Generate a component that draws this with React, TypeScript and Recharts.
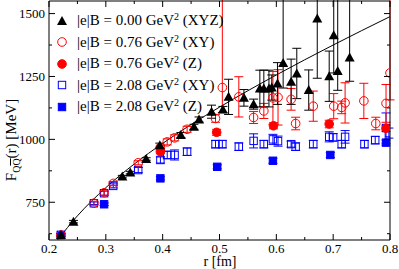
import React from 'react';
import { ComposedChart, Scatter, Line, XAxis, YAxis, ErrorBar } from 'recharts';

// fit curve
const fitR = [0.215, 0.25, 0.3, 0.35, 0.4, 0.45, 0.5, 0.6, 0.7, 0.8];
const fitF = [600, 696, 808, 902, 984, 1059, 1128, 1256, 1375, 1488];

// |e|B = 0.00 (XYZ)
const b0R = [0.221, 0.243, 0.329, 0.343, 0.371, 0.395, 0.432, 0.455, 0.464, 0.486, 0.506, 0.516, 0.543, 0.56, 0.571, 0.578, 0.587, 0.592, 0.602, 0.612, 0.626, 0.636, 0.657, 0.672, 0.693, 0.701, 0.708, 0.729];
const b0F = [620, 673, 852, 868, 922, 977, 1017, 1050, 1079, 1110, 1119, 1169, 1165, 1140, 1202, 1202, 1202, 1206, 1222, 1304, 1229, 1262, 1196, 1480, 1251, 1414, 1272, 1325];
const b0E: (number | number[])[] = [5, 5, 5, 5, 5, 8, 10, 10, 10, 26, 12, 70, 33, 20, 73, 73, 73, 50, 83, [100, 300], 90, 100, 80, 237, 100, 150, [77, 300], [94, 250]];

// |e|B = 0.76 (XY)
const b1xyR = [0.221, 0.279, 0.297, 0.313, 0.357, 0.396, 0.408, 0.421, 0.443, 0.493, 0.505, 0.534, 0.56, 0.578, 0.594, 0.603, 0.626, 0.634, 0.665, 0.701, 0.715, 0.721, 0.754, 0.775, 0.793, 0.8];
const b1xyF = [620, 746, 788, 825, 907, 967, 990, 1006, 1040, 1083, 1206, 1169, 1087, 1113, 1165, 1167, 1159, 1063, 1132, 1132, 1127, 1145, 1153, 1063, 1143, 1264];
const b1xyE: (number | number[])[] = [8, 8, 10, 8, 8, 10, 12, 12, 12, 15, [100, 400], 80, 24, 30, 105, 110, 43, 25, 60, 50, 25, 80, 70, 25, 75, [107, 400]];

// |e|B = 0.76 (Z)
const b1zR = [0.396, 0.495, 0.595, 0.693, 0.793];
const b1zF = [951, 1028, 1054, 1061, 1044];
const b1zE = [8, 12, 12, 15, 12];

// |e|B = 2.08 (XY)
const b2xyR = [0.221, 0.279, 0.297, 0.313, 0.357, 0.396, 0.408, 0.421, 0.443, 0.493, 0.505, 0.534, 0.56, 0.578, 0.594, 0.603, 0.626, 0.634, 0.665, 0.693, 0.7, 0.715, 0.721, 0.755, 0.774, 0.793, 0.798];
const b2xyF = [620, 746, 786, 815, 878, 918, 938, 938, 951, 981, 981, 971, 994, 981, 1000, 993, 981, 971, 981, 1010, 1008, 981, 1010, 981, 997, 1045, 1025];
const b2xyE = [5, 5, 8, 8, 10, 12, 15, 20, 15, 15, 15, 15, 28, 15, 20, 20, 12, 15, 15, 20, 15, 15, 25, 15, 15, 60, 20];

// |e|B = 2.08 (Z)
const b2zR = [0.221, 0.297, 0.396, 0.496, 0.594, 0.695, 0.793];
const b2zF = [620, 742, 845, 891, 915, 938, 987];
const b2zE = [5, 5, 6, 8, 10, 10, 10];

const xTicks = [0.2, 0.25, 0.3, 0.35, 0.4, 0.45, 0.5, 0.55, 0.6, 0.65, 0.7, 0.75, 0.8];
const yTicks = [625, 750, 875, 1000, 1125, 1250, 1375, 1500];

const zip = (r: number[], f: number[], e?: any[]) => r.map((x, i) => ({ x, y: f[i], err: e ? e[i] : 0 }));

const fitData = zip(fitR, fitF);
const s0 = zip(b0R, b0F, b0E);
const s1xy = zip(b1xyR, b1xyF, b1xyE);
const s1z = zip(b1zR, b1zF, b1zE);
const s2xy = zip(b2xyR, b2xyF, b2xyE);
const s2z = zip(b2zR, b2zF, b2zE);

const FONT = '"Liberation Serif", "Times New Roman", serif';
const RED = '#ff0000';
const BLUE = '#0000ff';

const triangle = (cx: number, cy: number, c = '#000') => (
  <path d={`M${cx},${cy - 5}L${cx + 5},${cy + 4}L${cx - 5},${cy + 4}Z`} fill={c} />
);
const circle = (cx: number, cy: number, fill: boolean) => (
  <circle cx={cx} cy={cy} r={4.3} fill={fill ? RED : 'none'} stroke={RED} strokeWidth={1} />
);
const square = (cx: number, cy: number, fill: boolean) => (
  <rect x={cx - 3.7} y={cy - 3.7} width={7.4} height={7.4} fill={fill ? BLUE : 'none'} stroke={BLUE} strokeWidth={1} />
);

const isMajorX = (v: number) => Math.abs(v * 10 - Math.round(v * 10)) < 1e-6;
const isMajorY = (v: number) => v % 250 === 0;

const BottomTick = (p: any) => {
  const major = isMajorX(p.payload.value);
  return (
    <g>
      <line x1={p.x} x2={p.x} y1={p.y} y2={p.y - (major ? 6 : 3)} stroke="#000" />
      {major && (
        <text x={p.x} y={p.y + 12.5} textAnchor="middle" fontFamily={FONT} fontSize={13} fill="#000">
          {p.payload.value.toFixed(1)}
        </text>
      )}
    </g>
  );
};
const TopTick = (p: any) => {
  const major = isMajorX(p.payload.value);
  return <line x1={p.x} x2={p.x} y1={p.y} y2={p.y + (major ? 6 : 3)} stroke="#000" />;
};
const LeftTick = (p: any) => {
  const major = isMajorY(p.payload.value);
  return (
    <g>
      <line x1={p.x} x2={p.x + (major ? 6 : 3)} y1={p.y} y2={p.y} stroke="#000" />
      {major && (
        <text x={p.x - 4} y={p.y + 4.5} textAnchor="end" fontFamily={FONT} fontSize={13} fill="#000">
          {p.payload.value}
        </text>
      )}
    </g>
  );
};
const RightTick = (p: any) => {
  const major = isMajorY(p.payload.value);
  return <line x1={p.x} x2={p.x - (major ? 6 : 3)} y1={p.y} y2={p.y} stroke="#000" />;
};

const legendRows = [
  { sym: (cx: number, cy: number) => triangle(cx, cy), val: '0.00', dir: 'XYZ' },
  { sym: (cx: number, cy: number) => circle(cx, cy, false), val: '0.76', dir: 'XY' },
  { sym: (cx: number, cy: number) => circle(cx, cy, true), val: '0.76', dir: 'Z' },
  { sym: (cx: number, cy: number) => square(cx, cy, false), val: '2.08', dir: 'XY' },
  { sym: (cx: number, cy: number) => square(cx, cy, true), val: '2.08', dir: 'Z' },
];

const LegendBox = () => (
  <div style={{ position: 'absolute', left: 55, top: 10, fontFamily: FONT, fontSize: 15, color: '#000' }}>
    {legendRows.map((row, i) => (
      <div key={i} style={{ display: 'flex', alignItems: 'center', height: 21.5, whiteSpace: 'nowrap' }}>
        <svg width={14} height={14} style={{ marginRight: 8 }}>{row.sym(7, 7)}</svg>
        <span>|e|B = {row.val} GeV<sup style={{ fontSize: 10, verticalAlign: 'top', lineHeight: '10px' }}>2</sup> ({row.dir})</span>
      </div>
    ))}
  </div>
);

export default function App() {
  return (
    <div style={{ position: 'absolute', left: 0, top: 0, width: 399, height: 269 }}>
      <ComposedChart width={399} height={269} margin={{ top: 0, right: 8, bottom: 1, left: 9 }}>
        <XAxis xAxisId="b" type="number" dataKey="x" domain={[0.2, 0.8]} ticks={xTicks} allowDataOverflow
          height={28} tickSize={0} tickMargin={0} tickLine={false} interval={0} stroke="#000" tick={<BottomTick />} />
        <XAxis xAxisId="t" orientation="top" type="number" dataKey="x" domain={[0.2, 0.8]} ticks={xTicks} allowDataOverflow
          height={1} tickSize={0} tickMargin={0} tickLine={false} interval={0} stroke="#000" tick={<TopTick />} />
        <YAxis yAxisId="l" type="number" dataKey="y" domain={[600, 1550]} ticks={yTicks} allowDataOverflow
          width={40} tickSize={0} tickMargin={0} tickLine={false} interval={0} stroke="#000" tick={<LeftTick />} />
        <YAxis yAxisId="r" orientation="right" type="number" dataKey="y" domain={[600, 1550]} ticks={yTicks} allowDataOverflow
          width={1} tickSize={0} tickMargin={0} tickLine={false} interval={0} stroke="#000" tick={<RightTick />} />
        <Line xAxisId="b" yAxisId="l" data={fitData} dataKey="y" type="monotone" stroke="#000" strokeWidth={1}
          dot={false} isAnimationActive={false} legendType="none" />
        <Scatter xAxisId="b" yAxisId="l" data={s2xy} isAnimationActive={false} shape={(p: any) => square(p.cx, p.cy, false)}>
          <ErrorBar dataKey="err" direction="y" width={4.5} stroke={BLUE} strokeWidth={1} />
        </Scatter>
        <Scatter xAxisId="b" yAxisId="l" data={s2z} isAnimationActive={false} shape={(p: any) => square(p.cx, p.cy, true)}>
          <ErrorBar dataKey="err" direction="y" width={4.5} stroke={BLUE} strokeWidth={1} />
        </Scatter>
        <Scatter xAxisId="b" yAxisId="l" data={s1xy} isAnimationActive={false} shape={(p: any) => circle(p.cx, p.cy, false)}>
          <ErrorBar dataKey="err" direction="y" width={4.5} stroke={RED} strokeWidth={1} />
        </Scatter>
        <Scatter xAxisId="b" yAxisId="l" data={s1z} isAnimationActive={false} shape={(p: any) => circle(p.cx, p.cy, true)}>
          <ErrorBar dataKey="err" direction="y" width={4.5} stroke={RED} strokeWidth={1} />
        </Scatter>
        <Scatter xAxisId="b" yAxisId="l" data={s0} isAnimationActive={false} shape={(p: any) => triangle(p.cx, p.cy)}>
          <ErrorBar dataKey="err" direction="y" width={4.5} stroke="#000" strokeWidth={1} />
        </Scatter>
      </ComposedChart>
      <LegendBox />
      <div style={{ position: 'absolute', left: 14, top: 140, transform: 'translate(-50%, -50%) rotate(-90deg)',
        fontFamily: FONT, fontSize: 15, whiteSpace: 'nowrap', color: '#000', lineHeight: '16px' }}>
        F<sub style={{ fontSize: 10 }}>Q<span style={{ textDecoration: 'overline' }}>Q</span></sub>(r) [MeV]
      </div>
      <div style={{ position: 'absolute', left: 220, top: 262, transform: 'translate(-50%, -50%)',
        fontFamily: FONT, fontSize: 14, whiteSpace: 'nowrap', color: '#000', lineHeight: '14px' }}>
        r [fm]
      </div>
    </div>
  );
}
